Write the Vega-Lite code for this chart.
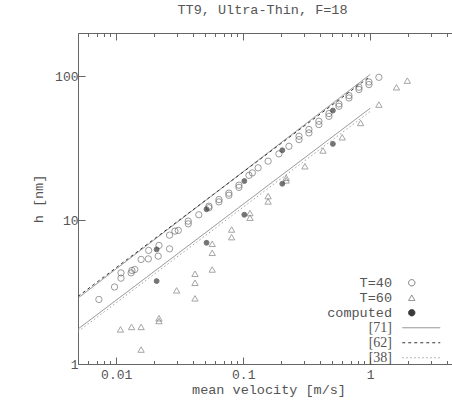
{
  "$schema": "https://vega.github.io/schema/vega-lite/v6.json",
  "width": 381,
  "height": 331,
  "autosize": {"type": "none"},
  "padding": {"left": 78, "top": 33, "right": 0, "bottom": 46},
  "title": {
    "text": "TT9, Ultra-Thin, F=18",
    "font": "Liberation Mono",
    "fontSize": 13.5,
    "fontWeight": "normal",
    "color": "#555",
    "offset": 16,
    "dx": -6
  },
  "datasets": {
    "fits": [
      {"v": 0.005, "h": 2.87, "series": "[71]", "curve": "71a"},
      {"v": 1, "h": 103, "series": "[71]", "curve": "71a"},
      {"v": 0.005, "h": 1.75, "series": "[71]", "curve": "71b"},
      {"v": 1, "h": 60, "series": "[71]", "curve": "71b"},
      {"v": 0.005, "h": 2.95, "series": "[62]", "curve": "62"},
      {"v": 1, "h": 100, "series": "[62]", "curve": "62"},
      {"v": 0.005, "h": 1.68, "series": "[38]", "curve": "38"},
      {"v": 1, "h": 57, "series": "[38]", "curve": "38"}
    ],
    "measured": [
      {"v": 0.0073, "h": 2.81, "series": "T=40"},
      {"v": 0.0097, "h": 3.43, "series": "T=40"},
      {"v": 0.0109, "h": 4.3, "series": "T=40"},
      {"v": 0.0109, "h": 3.95, "series": "T=40"},
      {"v": 0.0131, "h": 4.3, "series": "T=40"},
      {"v": 0.0133, "h": 4.47, "series": "T=40"},
      {"v": 0.014, "h": 4.54, "series": "T=40"},
      {"v": 0.0157, "h": 5.33, "series": "T=40"},
      {"v": 0.0179, "h": 5.38, "series": "T=40"},
      {"v": 0.018, "h": 6.16, "series": "T=40"},
      {"v": 0.0214, "h": 5.62, "series": "T=40"},
      {"v": 0.0217, "h": 6.67, "series": "T=40"},
      {"v": 0.0263, "h": 6.32, "series": "T=40"},
      {"v": 0.0263, "h": 7.87, "series": "T=40"},
      {"v": 0.029, "h": 8.39, "series": "T=40"},
      {"v": 0.0308, "h": 8.49, "series": "T=40"},
      {"v": 0.0369, "h": 9.43, "series": "T=40"},
      {"v": 0.0369, "h": 9.84, "series": "T=40"},
      {"v": 0.0447, "h": 10.9, "series": "T=40"},
      {"v": 0.0537, "h": 12.2, "series": "T=40"},
      {"v": 0.0537, "h": 12.5, "series": "T=40"},
      {"v": 0.0644, "h": 13.4, "series": "T=40"},
      {"v": 0.0644, "h": 13.9, "series": "T=40"},
      {"v": 0.0771, "h": 14.9, "series": "T=40"},
      {"v": 0.0771, "h": 15.4, "series": "T=40"},
      {"v": 0.0925, "h": 16.9, "series": "T=40"},
      {"v": 0.0925, "h": 17.5, "series": "T=40"},
      {"v": 0.111, "h": 20.5, "series": "T=40"},
      {"v": 0.118, "h": 21.3, "series": "T=40"},
      {"v": 0.131, "h": 23.1, "series": "T=40"},
      {"v": 0.157, "h": 25.7, "series": "T=40"},
      {"v": 0.191, "h": 28.9, "series": "T=40"},
      {"v": 0.229, "h": 32.6, "series": "T=40"},
      {"v": 0.275, "h": 36.3, "series": "T=40"},
      {"v": 0.275, "h": 38.3, "series": "T=40"},
      {"v": 0.329, "h": 40.4, "series": "T=40"},
      {"v": 0.329, "h": 42.7, "series": "T=40"},
      {"v": 0.394, "h": 46.2, "series": "T=40"},
      {"v": 0.394, "h": 48.7, "series": "T=40"},
      {"v": 0.473, "h": 52.7, "series": "T=40"},
      {"v": 0.473, "h": 55.1, "series": "T=40"},
      {"v": 0.567, "h": 61.9, "series": "T=40"},
      {"v": 0.567, "h": 64.2, "series": "T=40"},
      {"v": 0.68, "h": 70.7, "series": "T=40"},
      {"v": 0.68, "h": 73.5, "series": "T=40"},
      {"v": 0.815, "h": 80.9, "series": "T=40"},
      {"v": 0.815, "h": 83.9, "series": "T=40"},
      {"v": 0.977, "h": 87.6, "series": "T=40"},
      {"v": 0.977, "h": 91.3, "series": "T=40"},
      {"v": 1.17, "h": 98.4, "series": "T=40"},
      {"v": 0.0108, "h": 1.74, "series": "T=60"},
      {"v": 0.0132, "h": 1.81, "series": "T=60"},
      {"v": 0.0157, "h": 1.81, "series": "T=60"},
      {"v": 0.0157, "h": 1.26, "series": "T=60"},
      {"v": 0.0217, "h": 2.08, "series": "T=60"},
      {"v": 0.0217, "h": 1.99, "series": "T=60"},
      {"v": 0.0299, "h": 3.25, "series": "T=60"},
      {"v": 0.0417, "h": 4.24, "series": "T=60"},
      {"v": 0.0417, "h": 3.67, "series": "T=60"},
      {"v": 0.0417, "h": 2.86, "series": "T=60"},
      {"v": 0.057, "h": 6.85, "series": "T=60"},
      {"v": 0.057, "h": 5.93, "series": "T=60"},
      {"v": 0.057, "h": 4.54, "series": "T=60"},
      {"v": 0.081, "h": 8.61, "series": "T=60"},
      {"v": 0.081, "h": 7.62, "series": "T=60"},
      {"v": 0.113, "h": 11.2, "series": "T=60"},
      {"v": 0.113, "h": 10.4, "series": "T=60"},
      {"v": 0.157, "h": 14.7, "series": "T=60"},
      {"v": 0.157, "h": 13.5, "series": "T=60"},
      {"v": 0.218, "h": 19.7, "series": "T=60"},
      {"v": 0.218, "h": 18.9, "series": "T=60"},
      {"v": 0.306, "h": 23.7, "series": "T=60"},
      {"v": 0.425, "h": 30.5, "series": "T=60"},
      {"v": 0.602, "h": 37.7, "series": "T=60"},
      {"v": 0.84, "h": 47.4, "series": "T=60"},
      {"v": 1.17, "h": 63.6, "series": "T=60"},
      {"v": 1.61, "h": 83.9, "series": "T=60"},
      {"v": 1.96, "h": 93.3, "series": "T=60"},
      {"v": 0.0208, "h": 6.26, "series": "computed"},
      {"v": 0.0208, "h": 3.77, "series": "computed"},
      {"v": 0.0514, "h": 6.96, "series": "computed"},
      {"v": 0.0514, "h": 11.9, "series": "computed"},
      {"v": 0.102, "h": 10.9, "series": "computed"},
      {"v": 0.102, "h": 18.7, "series": "computed"},
      {"v": 0.203, "h": 17.9, "series": "computed"},
      {"v": 0.203, "h": 30.6, "series": "computed"},
      {"v": 0.508, "h": 33.9, "series": "computed"},
      {"v": 0.508, "h": 57.8, "series": "computed"}
    ]
  },
  "layer": [
    {
      "data": {"name": "fits"},
      "transform": [{"filter": "datum.series == '[71]'"}],
      "mark": {"type": "line", "strokeWidth": 1, "clip": true},
      "encoding": {
        "x": {
          "field": "v", "type": "quantitative",
          "scale": {"type": "log", "domain": [0.005, 5], "nice": false},
          "axis": {
            "orient": "bottom",
            "title": "mean velocity [m/s]",
            "titlePadding": 1,
            "values": [0.005, 0.006, 0.007, 0.008, 0.009, 0.01, 0.02, 0.03, 0.04, 0.05, 0.06, 0.07, 0.08, 0.09, 0.1, 0.2, 0.3, 0.4, 0.5, 0.6, 0.7, 0.8, 0.9, 1, 2, 3, 4, 5],
            "labelExpr": "datum.value == 0.01 ? '0.01' : datum.value == 0.1 ? '0.1' : datum.value == 1 ? '1' : ''",
            "tickSize": -3.5,
            "labelPadding": 8
          }
        },
        "y": {
          "field": "h", "type": "quantitative",
          "scale": {"type": "log", "domain": [1, 200], "nice": false},
          "axis": {
            "title": "h [nm]",
            "values": [1, 10, 100],
            "labelExpr": "datum.value == 1 ? '1' : datum.value == 10 ? '10' : '100'",
            "tickSize": -7,
            "labelPadding": 7,
            "titlePadding": 9
          }
        },
        "detail": {"field": "curve"},
        "stroke": {
          "field": "series", "type": "nominal",
          "scale": {"domain": ["T=40", "T=60", "computed", "[71]", "[62]", "[38]"], "range": ["#707070", "#808080", "#3a3a3a", "#8a8a8a", "#333333", "#a0a0a0"]},
          "legend": {
            "encode": {
              "symbols": {"update": {"size": {"signal": "indexof(['[71]','[62]','[38]'], datum.value) >= 0 ? 1444 : 40"}}},
              "labels": {"update": {
                "font": {"signal": "indexof(['[71]','[62]','[38]'], datum.value) >= 0 ? 'Liberation Serif' : 'Liberation Mono'"},
                "fontSize": {"signal": "indexof(['[71]','[62]','[38]'], datum.value) >= 0 ? 14 : 13.5"}
              }}
            }
          }
        },
        "strokeDash": {
          "field": "series", "type": "nominal",
          "scale": {"domain": ["T=40", "T=60", "computed", "[71]", "[62]", "[38]"], "range": [[1, 0], [1, 0], [1, 0], [1, 0], [3, 3], [1.5, 2.5]]},
          "legend": {
            "encode": {
              "symbols": {"update": {"size": {"signal": "indexof(['[71]','[62]','[38]'], datum.value) >= 0 ? 1444 : 40"}}},
              "labels": {"update": {
                "font": {"signal": "indexof(['[71]','[62]','[38]'], datum.value) >= 0 ? 'Liberation Serif' : 'Liberation Mono'"},
                "fontSize": {"signal": "indexof(['[71]','[62]','[38]'], datum.value) >= 0 ? 14 : 13.5"}
              }}
            }
          }
        }
      }
    },
    {
      "data": {"name": "fits"},
      "transform": [{"filter": "datum.series != '[71]'"}],
      "mark": {"type": "line", "strokeWidth": 1, "clip": true},
      "encoding": {
        "x": {
          "field": "v", "type": "quantitative",
          "axis": {
            "orient": "bottom",
            "title": null,
            "values": [0.01, 0.1, 1],
            "labels": false,
            "domain": false,
            "tickSize": -7
          }
        },
        "y": {"field": "h", "type": "quantitative"},
        "detail": {"field": "curve"},
        "stroke": {"field": "series", "type": "nominal"},
        "strokeDash": {"field": "series", "type": "nominal"}
      }
    },
    {
      "data": {"name": "measured"},
      "transform": [{"filter": "datum.series != 'computed'"}],
      "mark": {"type": "point", "strokeWidth": 1, "size": 40, "clip": true},
      "encoding": {
        "x": {
          "field": "v", "type": "quantitative",
          "axis": {
            "orient": "top",
            "title": null,
            "values": [0.005, 0.006, 0.007, 0.008, 0.009, 0.01, 0.02, 0.03, 0.04, 0.05, 0.06, 0.07, 0.08, 0.09, 0.1, 0.2, 0.3, 0.4, 0.5, 0.6, 0.7, 0.8, 0.9, 1, 2, 3, 4, 5],
            "labels": false,
            "tickSize": -3.5
          }
        },
        "y": {"field": "h", "type": "quantitative"},
        "shape": {
          "field": "series", "type": "nominal",
          "scale": {"domain": ["T=40", "T=60", "computed", "[71]", "[62]", "[38]"], "range": ["circle", "triangle-up", "circle", "M -0.5 0 L 1.5 0", "M -0.5 0 L 1.5 0", "M -0.5 0 L 1.5 0"]},
          "legend": {
            "encode": {
              "symbols": {"update": {"size": {"signal": "indexof(['[71]','[62]','[38]'], datum.value) >= 0 ? 1444 : 40"}}},
              "labels": {"update": {
                "font": {"signal": "indexof(['[71]','[62]','[38]'], datum.value) >= 0 ? 'Liberation Serif' : 'Liberation Mono'"},
                "fontSize": {"signal": "indexof(['[71]','[62]','[38]'], datum.value) >= 0 ? 14 : 13.5"}
              }}
            }
          }
        },
        "fill": {
          "field": "series", "type": "nominal",
          "scale": {"domain": ["T=40", "T=60", "computed", "[71]", "[62]", "[38]"], "range": ["transparent", "transparent", "#3a3a3a", "transparent", "transparent", "transparent"]},
          "legend": {
            "encode": {
              "symbols": {"update": {"size": {"signal": "indexof(['[71]','[62]','[38]'], datum.value) >= 0 ? 1444 : 40"}}},
              "labels": {"update": {
                "font": {"signal": "indexof(['[71]','[62]','[38]'], datum.value) >= 0 ? 'Liberation Serif' : 'Liberation Mono'"},
                "fontSize": {"signal": "indexof(['[71]','[62]','[38]'], datum.value) >= 0 ? 14 : 13.5"}
              }}
            }
          }
        },
        "stroke": {"field": "series", "type": "nominal"}
      }
    },
    {
      "data": {"name": "measured"},
      "transform": [{"filter": "datum.series == 'computed'"}],
      "mark": {"type": "point", "strokeWidth": 1, "size": 24, "clip": true},
      "encoding": {
        "x": {
          "field": "v", "type": "quantitative",
          "axis": {
            "orient": "top",
            "title": null,
            "values": [0.01, 0.1, 1],
            "labels": false,
            "domain": false,
            "tickSize": -7
          }
        },
        "y": {"field": "h", "type": "quantitative"},
        "shape": {"field": "series", "type": "nominal"},
        "fill": {"field": "series", "type": "nominal"},
        "stroke": {"field": "series", "type": "nominal"}
      }
    }
  ],
  "resolve": {"axis": {"x": "independent"}},
  "config": {
    "view": {"stroke": null},
    "axis": {
      "grid": false,
      "domainColor": "#666",
      "tickColor": "#666",
      "labelFont": "Liberation Mono",
      "labelFontSize": 13,
      "labelColor": "#555",
      "titleFont": "Liberation Mono",
      "titleFontSize": 13.5,
      "titleFontWeight": "normal",
      "titleColor": "#555"
    },
    "legend": {
      "orient": "none",
      "legendX": 327,
      "legendY": 243,
      "title": null,
      "labelFont": "Liberation Mono",
      "labelFontSize": 13.5,
      "labelColor": "#555",
      "labelAlign": "right",
      "labelOffset": -26.5,
      "rowPadding": 0,
      "symbolStrokeWidth": 1,
      "symbolSize": 40
    }
  }
}
